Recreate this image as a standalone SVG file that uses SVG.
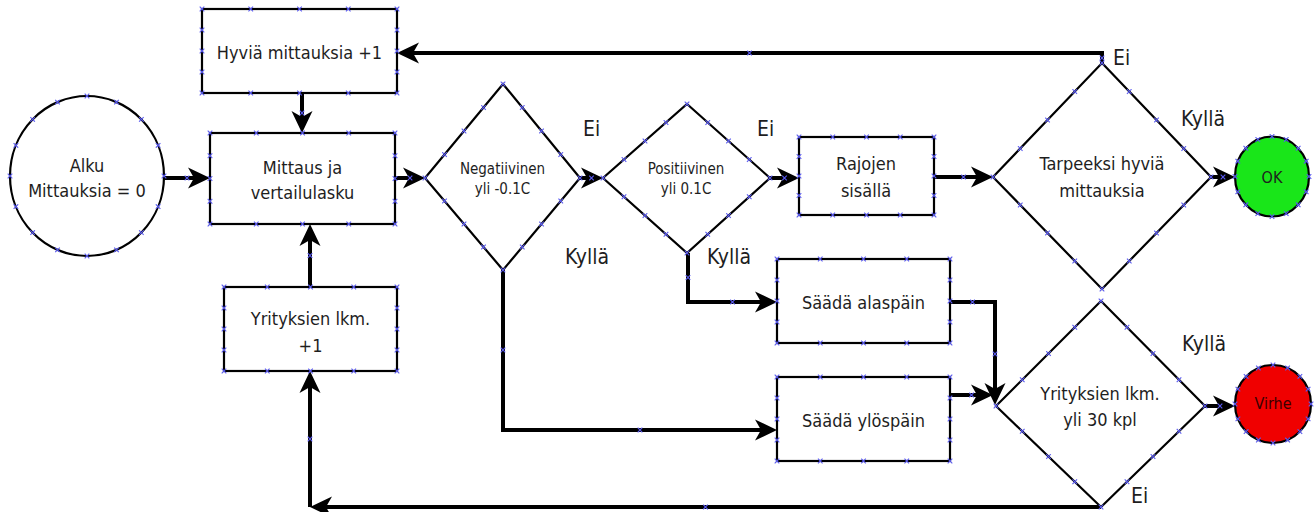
<svg xmlns="http://www.w3.org/2000/svg" width="1314" height="512" viewBox="0 0 1314 512">
<style>
.sh{fill:#fff;stroke:#000;stroke-width:2.2}
.t{font-family:"DejaVu Sans Condensed","DejaVu Sans",sans-serif;font-size:18px;fill:#1e1e1e;text-anchor:middle}
.s{font-size:15px}
.lb{font-family:"DejaVu Sans Condensed","DejaVu Sans",sans-serif;font-size:21px;fill:#1e1e1e}
.c{fill:none;stroke:#000;stroke-width:4;marker-end:url(#ah)}
.xm{fill:none;stroke:none;marker-start:url(#xx);marker-mid:url(#xx);marker-end:url(#xx)}
</style>
<defs>
<marker id="ah" viewBox="0 0 22 22" refX="15" refY="11" markerWidth="22" markerHeight="22" markerUnits="userSpaceOnUse" orient="auto"><path d="M0,0.5 L22,11 L0,21.5 L6,11 z" fill="#000"/></marker>
<marker id="xx" viewBox="-3 -3 6 6" refX="0" refY="0" markerWidth="6" markerHeight="6" markerUnits="userSpaceOnUse" orient="0"><path d="M-2.3,-2.3 L2.3,2.3 M-2.3,2.3 L2.3,-2.3" stroke="#5a5af0" stroke-width="1.1"/></marker>
</defs>
<rect width="1314" height="512" fill="#fff"/>
<g id="connectors">
<path class="c" d="M164,178 L203,178"/>
<path class="c" d="M302,93 L302,126"/>
<path class="c" d="M395,178 L418,178"/>
<path class="c" d="M310,287 L310,231"/>
<path class="c" d="M580,178 L596,178"/>
<path class="c" d="M770,178 L792,178"/>
<path class="c" d="M934,177 L986,177"/>
<path class="c" d="M1211,177 L1228,177"/>
<path class="c" d="M1102,63 L1102,53 L404,53"/>
<path class="c" d="M688,253 L688,302 L770,302"/>
<path class="c" d="M503,270 L503,430 L770,430"/>
<path class="c" d="M950,302 L995,302 L995,398"/>
<path class="c" d="M950,395 L986,395"/>
<path class="c" d="M1205,406 L1228,406"/>
<path class="c" d="M1101,507 L317,507"/>
<path class="c" d="M310,507 L310,378"/>
</g>
<g id="alku"><ellipse class="sh" cx="87" cy="176" rx="77" ry="80"/><text class="t" x="87" y="171.5">Alku</text><text class="t" x="87" y="196.5">Mittauksia = 0</text></g>
<g id="hyvia"><rect class="sh" x="202" y="9" width="195" height="84"/><text class="t" x="299.5" y="58.5">Hyviä mittauksia +1</text></g>
<g id="mittaus"><rect class="sh" x="210" y="133" width="185" height="91"/><text class="t" x="302.5" y="173.5">Mittaus ja</text><text class="t" x="302.5" y="198.5">vertailulasku</text></g>
<g id="yrityksien-box"><rect class="sh" x="224" y="287" width="173" height="84"/><text class="t" x="310.5" y="324.5">Yrityksien lkm.</text><text class="t" x="310.5" y="351.5">+1</text></g>
<g id="negatiivinen"><polygon class="sh" points="503,84 580,178 503,270 425,178"/><text class="t s" x="502.5" y="173.5">Negatiivinen</text><text class="t s" x="502.5" y="193.5">yli -0.1C</text></g>
<g id="positiivinen"><polygon class="sh" points="687,104 770,178 687,253 603,178"/><text class="t s" x="686" y="173.5">Positiivinen</text><text class="t s" x="686" y="193.5">yli 0.1C</text></g>
<g id="rajojen"><rect class="sh" x="799" y="137" width="135" height="78"/><text class="t" x="866" y="169.5">Rajojen</text><text class="t" x="866" y="196.5">sisällä</text></g>
<g id="tarpeeksi"><polygon class="sh" points="1102,63 1211,177 1102,289 993,177"/><text class="t" x="1102" y="169.5">Tarpeeksi hyviä</text><text class="t" x="1102" y="196.5">mittauksia</text></g>
<g id="ok"><ellipse cx="1272" cy="176.5" rx="37" ry="40" fill="#19e619" stroke="#000" stroke-width="2.2"/><text class="t" style="font-size:16px" x="1272" y="182.5">OK</text></g>
<g id="alas"><rect class="sh" x="777" y="259" width="173" height="84"/><text class="t" x="863.5" y="308.5">Säädä alaspäin</text></g>
<g id="ylos"><rect class="sh" x="777" y="377" width="173" height="84"/><text class="t" x="863.5" y="426.5">Säädä ylöspäin</text></g>
<g id="yrityksien-diamond"><polygon class="sh" points="1101,301 1205,406 1101,507 996,406"/><text class="t" x="1100" y="399.5">Yrityksien lkm.</text><text class="t" x="1100" y="425.5">yli 30 kpl</text></g>
<g id="virhe"><ellipse cx="1273" cy="404" rx="38" ry="39" fill="#f00000" stroke="#000" stroke-width="2.2"/><text class="t" style="font-size:16px;fill:#3a0000" x="1273" y="409">Virhe</text></g>
<g id="labels">
<text class="lb" x="583" y="136">Ei</text>
<text class="lb" x="757" y="136">Ei</text>
<text class="lb" x="565" y="264">Kyllä</text>
<text class="lb" x="707" y="264">Kyllä</text>
<text class="lb" x="1113" y="65">Ei</text>
<text class="lb" x="1181" y="126">Kyllä</text>
<text class="lb" x="1182" y="351">Kyllä</text>
<text class="lb" x="1131" y="503">Ei</text>
</g>
<g id="connection-points">
<polyline class="xm" points="202,9 250.75,9 299.5,9 348.25,9 397,9 397,30 397,51 397,72 397,93 348.25,93 299.5,93 250.75,93 202,93 202,72 202,51 202,30"/>
<polyline class="xm" points="210,133 256.25,133 302.5,133 348.75,133 395,133 395,155.75 395,178.5 395,201.25 395,224 348.75,224 302.5,224 256.25,224 210,224 210,201.25 210,178.5 210,155.75"/>
<polyline class="xm" points="224,287 267.25,287 310.5,287 353.75,287 397,287 397,308 397,329 397,350 397,371 353.75,371 310.5,371 267.25,371 224,371 224,350 224,329 224,308"/>
<polyline class="xm" points="799,137 832.75,137 866.5,137 900.25,137 934,137 934,156.5 934,176 934,195.5 934,215 900.25,215 866.5,215 832.75,215 799,215 799,195.5 799,176 799,156.5"/>
<polyline class="xm" points="777,259 820.25,259 863.5,259 906.75,259 950,259 950,280 950,301 950,322 950,343 906.75,343 863.5,343 820.25,343 777,343 777,322 777,301 777,280"/>
<polyline class="xm" points="777,377 820.25,377 863.5,377 906.75,377 950,377 950,398 950,419 950,440 950,461 906.75,461 863.5,461 820.25,461 777,461 777,440 777,419 777,398"/>
<polyline class="xm" points="503,84 522.25,107.5 541.5,131 560.75,154.5 580,178 560.75,201 541.5,224 522.25,247 503,270 483.5,247 464,224 444.5,201 425,178 444.5,154.5 464,131 483.5,107.5"/>
<polyline class="xm" points="687,104 707.75,122.5 728.5,141 749.25,159.5 770,178 749.25,196.75 728.5,215.5 707.75,234.25 687,253 666,234.25 645,215.5 624,196.75 603,178 624,159.5 645,141 666,122.5"/>
<polyline class="xm" points="1102,63 1129.25,91.5 1156.5,120 1183.75,148.5 1211,177 1183.75,205 1156.5,233 1129.25,261 1102,289 1074.75,261 1047.5,233 1020.25,205 993,177 1020.25,148.5 1047.5,120 1074.75,91.5"/>
<polyline class="xm" points="1101,301 1127,327.25 1153,353.5 1179,379.75 1205,406 1179,431.25 1153,456.5 1127,481.75 1101,507 1074.75,481.75 1048.5,456.5 1022.25,431.25 996,406 1022.25,379.75 1048.5,353.5 1074.75,327.25"/>
<polyline class="xm" points="164,176 158.1,206.6 141.4,232.6 116.5,249.9 87,256 57.5,249.9 32.6,232.6 15.9,206.6 10,176 15.9,145.4 32.6,119.4 57.5,102.1 87,96 116.5,102.1 141.4,119.4 158.1,145.4"/>
<polyline class="xm" points="1309,176.5 1306.2,191.8 1298.2,204.8 1286.2,213.5 1272,216.5 1257.8,213.5 1245.8,204.8 1237.8,191.8 1235,176.5 1237.8,161.2 1245.8,148.2 1257.8,139.5 1272,136.5 1286.2,139.5 1298.2,148.2 1306.2,161.2"/>
<polyline class="xm" points="1311,404 1308.1,418.9 1299.9,431.6 1287.6,440 1273,443 1258.4,440 1246.1,431.6 1237.9,418.9 1235,404 1237.9,389.1 1246.1,376.4 1258.4,368 1273,365 1287.6,368 1299.9,376.4 1308.1,389.1"/>
<polyline class="xm" points="187,178 302,113 410,178 310,255.5 591.5,178 784.5,178 963.5,177 1223,177 1102,58 749.5,53 688,277.5 732.5,302 503,350 640,430 972.5,302 995,354 971.5,395 1220,406 705.5,507 310,439"/>
</g>
</svg>
